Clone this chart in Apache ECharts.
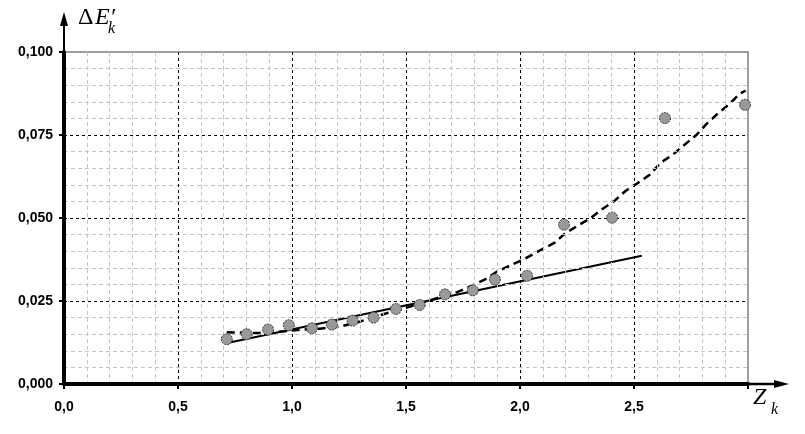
<!DOCTYPE html>
<html><head><meta charset="utf-8">
<script src="https://cdn.jsdelivr.net/npm/echarts@6/dist/echarts.min.js"></script>
<style>html,body{margin:0;padding:0;background:#fff}#c{width:805px;height:434px}</style>
</head><body><div id="c"></div>
<script>
// Measured points (Z_k, ΔE'_k)
const pointX = [0.714, 0.801, 0.895, 0.986, 1.088, 1.175, 1.266, 1.358, 1.456, 1.560, 1.671, 1.793, 1.890, 2.031, 2.193, 2.404, 2.636, 2.987];
const pointY = [0.0135, 0.0150, 0.0164, 0.0177, 0.0168, 0.0179, 0.0191, 0.0200, 0.0226, 0.0238, 0.0270, 0.0282, 0.0315, 0.0326, 0.0480, 0.0501, 0.0801, 0.0841];
// Linear fit (solid line)
const fitX = [0.716, 2.534];
const fitY = [0.01235, 0.03864];
// Dashed curve
const curveX = [0.714, 0.793, 0.880, 0.968, 1.034, 1.122, 1.209, 1.297, 1.385, 1.472, 1.560, 1.648, 1.714, 1.779, 1.845, 1.898, 1.955, 2.021, 2.086, 2.152, 2.196, 2.253, 2.306, 2.363, 2.415, 2.464, 2.512, 2.569, 2.617, 2.670, 2.722, 2.775, 2.819, 2.867, 2.920, 2.964, 2.990];
const curveY = [0.0156, 0.01545, 0.0153, 0.0159, 0.01636, 0.01666, 0.01726, 0.01877, 0.02072, 0.02238, 0.02419, 0.02614, 0.02735, 0.02931, 0.03142, 0.03383, 0.03563, 0.03774, 0.04015, 0.04256, 0.04527, 0.04768, 0.04979, 0.0528, 0.05521, 0.05822, 0.06033, 0.06304, 0.06666, 0.06907, 0.07208, 0.07509, 0.0784, 0.08142, 0.08443, 0.08744, 0.08834];
// Axis settings
const xMin = 0, xMax = 3, xStep = 0.5;
const yMin = 0, yMax = 0.1, yStep = 0.025;

const zip = (a, b) => a.map((v, i) => [v, b[i]]);
const chart = echarts.init(document.getElementById('c'), null, {renderer: 'canvas'});
const labelFont = () => ({fontFamily: 'Liberation Sans, Arial', fontWeight: 'bold', fontSize: 14, color: '#000'});
const majorSplit = () => ({show: true, showMinLine: false, showMaxLine: false, lineStyle: {color: '#000', width: 1, type: [3, 3]}});
const minorSplit = () => ({show: true, lineStyle: {color: '#c4c4c4', width: 1, type: [4, 3]}});

const option = {
  animation: false,
  backgroundColor: '#fff',
  grid: {left: 64, top: 52, right: 57, bottom: 50, containLabel: false},
  xAxis: [{
    type: 'value', min: xMin, max: xMax, interval: xStep, position: 'bottom', z: 5,
    axisLine: {show: true, onZero: false, lineStyle: {color: '#000', width: 4}},
    axisTick: {show: true, length: 5, lineStyle: {color: '#000', width: 2}},
    minorTick: {show: false, splitNumber: 5, length: 0},
    axisLabel: Object.assign({margin: 16, formatter: v => Math.abs(v - xMax) < 1e-9 ? '' : v.toFixed(1).replace('.', ',')}, labelFont()),
    splitLine: majorSplit(), minorSplitLine: minorSplit()
  }, {
    type: 'value', min: xMin, max: xMax, position: 'top',
    axisLine: {show: true, onZero: false, lineStyle: {color: '#808080', width: 1.5}},
    axisTick: {show: false}, axisLabel: {show: false}, splitLine: {show: false}
  }],
  yAxis: [{
    type: 'value', min: yMin, max: yMax, interval: yStep, position: 'left', z: 5,
    axisLine: {show: true, onZero: false, lineStyle: {color: '#000', width: 4}},
    axisTick: {show: true, length: 5, lineStyle: {color: '#000', width: 2}},
    minorTick: {show: false, splitNumber: 5, length: 0},
    axisLabel: Object.assign({margin: 11, formatter: v => v.toFixed(3).replace('.', ',')}, labelFont()),
    splitLine: majorSplit(), minorSplitLine: minorSplit()
  }, {
    type: 'value', min: yMin, max: yMax, position: 'right',
    axisLine: {show: true, onZero: false, lineStyle: {color: '#808080', width: 1.5}},
    axisTick: {show: false}, axisLabel: {show: false}, splitLine: {show: false}
  }],
  series: [{
    type: 'line', data: zip(curveX, curveY), showSymbol: false, smooth: false, z: 3,
    lineStyle: {color: '#000', width: 2.5, type: [8, 5]}
  }, {
    type: 'line', data: zip(fitX, fitY), showSymbol: false, z: 4,
    lineStyle: {color: '#000', width: 2}
  }, {
    type: 'scatter', data: zip(pointX, pointY), symbol: 'circle', symbolSize: 11, z: 5,
    itemStyle: {color: '#999999', borderColor: '#333', borderWidth: 1, borderType: [2, 1], opacity: 1}
  }]
};
chart.setOption(option);

// Axis arrows and titles
const o = chart.convertToPixel({xAxisIndex: 0, yAxisIndex: 0}, [xMin, yMin]);
const e = chart.convertToPixel({xAxisIndex: 0, yAxisIndex: 0}, [xMax, yMax]);
const serif = 'Liberation Serif, Times New Roman, serif';
chart.setOption({
  graphic: [
    {type: 'line', shape: {x1: o[0], y1: e[1], x2: o[0], y2: 20}, style: {stroke: '#000', lineWidth: 2}, z: 10},
    {type: 'polygon', shape: {points: [[o[0], 12], [o[0] - 4, 26], [o[0] + 4, 26]]}, style: {fill: '#000'}, z: 10},
    {type: 'line', shape: {x1: e[0], y1: o[1], x2: 780, y2: o[1]}, style: {stroke: '#000', lineWidth: 2.5}, z: 10},
    {type: 'polygon', shape: {points: [[789, o[1]], [774, o[1] - 4], [774, o[1] + 4]]}, style: {fill: '#000'}, z: 10},
    {type: 'line', shape: {x1: e[0], y1: o[1], x2: e[0], y2: o[1] + 5}, style: {stroke: '#000', lineWidth: 2}, z: 10},
    {type: 'text', left: 78, top: 6, style: {text: 'Δ', font: '24px ' + serif, fill: '#000'}, z: 10},
    {type: 'text', left: 95, top: 6, style: {text: 'E′', font: 'italic 24px ' + serif, fill: '#000'}, z: 10},
    {type: 'text', left: 108, top: 21, style: {text: 'k', font: 'italic 16px ' + serif, fill: '#000'}, z: 10},
    {type: 'text', left: 753, top: 386, style: {text: 'Z', font: 'italic 24px ' + serif, fill: '#000'}, z: 10},
    {type: 'text', left: 771, top: 402, style: {text: 'k', font: 'italic 16px ' + serif, fill: '#000'}, z: 10}
  ]
});
</script>
</body></html>
